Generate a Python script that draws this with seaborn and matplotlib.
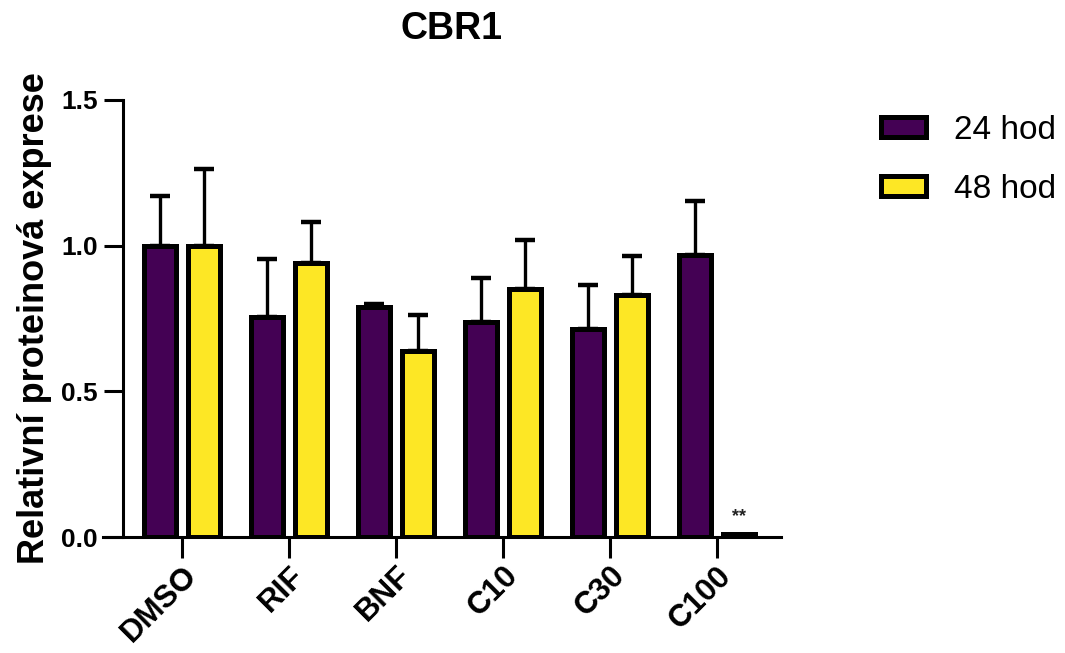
import matplotlib
matplotlib.use("Agg")
import matplotlib.pyplot as plt
import seaborn as sns
import pandas as pd
import numpy as np
from matplotlib.patches import Patch

categories = ["DMSO", "RIF", "BNF", "C10", "C30", "C100"]
groups = ["24 hod", "48 hod"]
mean_24 = [1.00, 0.754, 0.788, 0.738, 0.714, 0.969]
sd_24 = [0.172, 0.201, 0.012, 0.151, 0.150, 0.183]
mean_48 = [1.00, 0.940, 0.639, 0.852, 0.829, 0.010]
sd_48 = [0.263, 0.141, 0.124, 0.166, 0.134, 0.0]
colors = ["#440154", "#FDE725"]
yticks = [0.0, 0.5, 1.0, 1.5]

sns.set_style("ticks")
plt.rcParams["font.family"] = ["Liberation Sans", "DejaVu Sans"]
plt.rcParams["text.color"] = "black"
plt.rcParams["axes.labelcolor"] = "black"
plt.rcParams["xtick.color"] = "black"
plt.rcParams["ytick.color"] = "black"
plt.rcParams["axes.edgecolor"] = "black"

df = pd.DataFrame({
    "cat": categories * 2,
    "grp": [groups[0]] * len(categories) + [groups[1]] * len(categories),
    "val": mean_24 + mean_48,
    "sd": sd_24 + sd_48,
})

fig = plt.figure(figsize=(10.65, 6.53), dpi=100)
ax = fig.add_axes([0.1155, 0.1776, 0.733 - 0.1155, 0.8469 - 0.1776])

sns.barplot(data=df, x="cat", y="val", hue="grp", order=categories,
            hue_order=groups, palette=colors, width=0.82, gap=0.27,
            errorbar=None, edgecolor="black", linewidth=3.6, legend=False,
            saturation=1, ax=ax, zorder=3)

# error bars (upper only) from the drawn bars
bars = [p for p in ax.patches]
xs = [b.get_x() + b.get_width() / 2 for b in bars]
hs = [b.get_height() for b in bars]
sds = sd_24 + sd_48
for x, h, s in zip(xs, hs, sds):
    if s > 0:
        ax.errorbar(x, h, yerr=[[0], [s]], fmt="none", ecolor="black",
                    elinewidth=2.4, capsize=7, capthick=3.2, zorder=2)

# significance mark on C100 48 hod
ax.text(xs[-1], hs[-1] + 0.03, "**", ha="center", va="bottom",
        fontsize=13, fontweight="bold", color="#222222")

ax.set_xlim(-0.551, 5.598)
ax.set_ylim(0, 1.5)
ax.set_yticks(yticks)
ax.set_yticklabels([f"{t:.1f}" for t in yticks], fontsize=19, fontweight="bold")
ax.set_xticks(range(len(categories)))
ax.set_xticklabels(categories, rotation=45, ha="right", rotation_mode="anchor",
                   fontsize=22.5, fontweight="bold")
ax.tick_params(axis="both", width=2.2, length=14, direction="out", pad=4)
ax.tick_params(axis="x", length=15, pad=2)
for side in ["left", "bottom"]:
    ax.spines[side].set_linewidth(2.2)
for side in ["top", "right"]:
    ax.spines[side].set_visible(False)
ax.spines["bottom"].set_bounds(-0.74, 5.598)

ax.set_xlabel("")
ax.set_ylabel("Relativní proteinová exprese", fontsize=26, fontweight="bold",
              labelpad=7)
ax.set_title("CBR1", fontsize=27, fontweight="bold", pad=44)

handles = [Patch(facecolor=c, edgecolor="black", linewidth=3.6) for c in colors]
fig.legend(handles, groups, loc="upper left", bbox_to_anchor=(0.8145, 0.845),
           frameon=False, fontsize=24, handlelength=1.35, handleheight=0.55,
           handletextpad=0.85, labelspacing=0.85, borderaxespad=0)

fig.savefig("out.png", dpi=100)
